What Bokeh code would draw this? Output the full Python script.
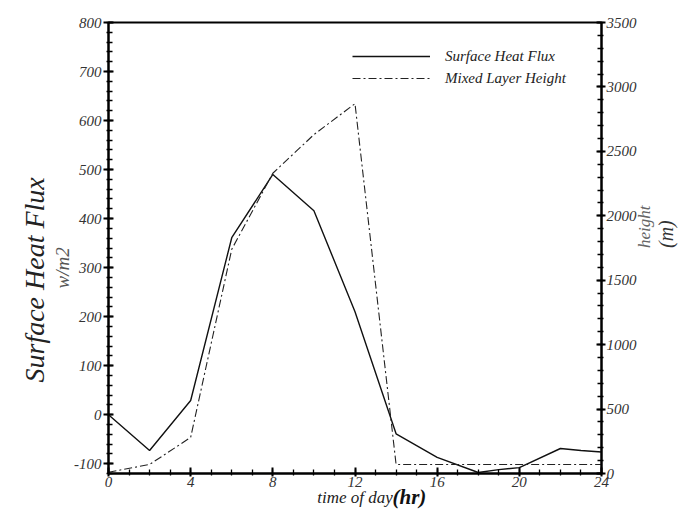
import math
from bokeh.plotting import figure
from bokeh.models import Range1d, LinearAxis, Legend, LegendItem, FixedTicker, Title
from bokeh.embed import file_html
from bokeh.resources import INLINE

# ---- data ----
flux_hours = [0, 2, 4, 6, 8, 10, 12, 14, 16, 18, 19, 20, 22, 23, 24]
flux_values = [0, -73, 29, 361, 490, 416, 210, -39, -87, -118, -112, -108, -69, -73, -76]

mlh_hours = [0, 2, 4, 6, 8, 10, 12, 14, 16, 18, 20, 22, 24]
mlh_values = [10, 70, 280, 1740, 2330, 2630, 2870, 70, 70, 70, 70, 70, 70]

x_ticks = [0, 4, 8, 12, 16, 20, 24]
flux_ticks = [-100, 0, 100, 200, 300, 400, 500, 600, 700, 800]
height_ticks = [0, 500, 1000, 1500, 2000, 2500, 3000, 3500]

FONT = "Liberation Serif"

p = figure(width=697, height=514, output_backend="svg", toolbar_location=None,
           x_range=Range1d(0, 24), y_range=Range1d(-120, 800),
           min_border_left=108, min_border_right=96, min_border_top=22,
           min_border_bottom=41)
p.extra_y_ranges = {"h": Range1d(0, 3500)}
p.grid.visible = False
p.outline_line_color = "black"
p.outline_line_width = 2

r1 = p.line(flux_hours, flux_values, line_color="#111111", line_width=1.4)
r2 = p.line(mlh_hours, mlh_values, y_range_name="h", line_color="#222222",
            line_width=1.1, line_dash="8 3 2 3")


def style_axis(ax, tin, tout, mtin, mtout, standoff):
    ax.axis_line_width = 2
    ax.axis_line_color = "black"
    ax.major_tick_line_width = 2
    ax.minor_tick_line_width = 1.3
    ax.major_tick_line_color = "black"
    ax.minor_tick_line_color = "black"
    ax.major_tick_in = tin
    ax.major_tick_out = tout
    ax.minor_tick_in = mtin
    ax.minor_tick_out = mtout
    ax.major_label_text_font = FONT
    ax.major_label_text_font_style = "italic"
    ax.major_label_text_font_size = "15px"
    ax.major_label_text_color = "#333333"
    ax.major_label_standoff = standoff
    ax.axis_label_text_font = FONT
    ax.axis_label_text_font_style = "italic"


def label_axis(text, size, color, standoff, **kw):
    ax = LinearAxis(**kw)
    ax.ticker = FixedTicker(ticks=[])
    ax.axis_line_color = None
    ax.major_tick_line_color = None
    ax.minor_tick_line_color = None
    ax.major_tick_in = 0
    ax.major_tick_out = 0
    ax.minor_tick_in = 0
    ax.minor_tick_out = 0
    ax.major_label_standoff = 0
    ax.major_label_text_font_size = "0px"
    ax.axis_label = text
    ax.axis_label_text_font = FONT
    ax.axis_label_text_font_style = "italic"
    ax.axis_label_text_font_size = size
    ax.axis_label_text_color = color
    ax.axis_label_standoff = standoff
    try:
        ax.axis_label_orientation = math.pi / 2
    except Exception:
        pass
    return ax


def side_title(text, size, color, offset, standoff, style="italic"):
    t = Title(text=text, align="left", offset=offset, vertical_align="middle",
              text_font=FONT, text_font_style=style, text_font_size=size,
              text_color=color)
    try:
        t.standoff = standoff
    except Exception:
        pass
    return t


# bottom axis
xa = p.xaxis[0]
xa.ticker = FixedTicker(ticks=x_ticks, minor_ticks=list(range(0, 25)))
style_axis(xa, 6, 3, 4, 2, 0)
xa.axis_label = "time of day"
xa.axis_label_text_font_size = "17px"
xa.axis_label_text_color = "#222222"
xa.axis_label_standoff = -2

# left axis
ya = p.yaxis[0]
ya.ticker = FixedTicker(ticks=flux_ticks, minor_ticks=list(range(-120, 801, 20)))
style_axis(ya, 5, 5, 4, 2, 2)
ya.major_label_overrides = {t: str(t) for t in flux_ticks}

p.add_layout(side_title("w/m2", "19px", "#555555", 185, -4), "left")
p.add_layout(side_title("Surface Heat Flux", "28px", "#222222", 91, 4), "left")

# right axis
ra = LinearAxis(y_range_name="h")
ra.ticker = FixedTicker(ticks=height_ticks, minor_ticks=list(range(0, 3501, 100)))
style_axis(ra, 5, 4, 4, 2, 1)
p.add_layout(ra, "right")

p.add_layout(label_axis("height", "17px", "#666666", 5, y_range_name="h"), "right")
p.add_layout(label_axis("(m)", "20px", "#333333", -1, y_range_name="h"), "right")

# bold "(hr)" next to the x-axis title
hr = Title(text="(hr)", align="left", offset=284, vertical_align="top",
           text_font=FONT, text_font_style="bold italic", text_font_size="21px",
           text_color="#111111")
try:
    hr.standoff = -49
except Exception:
    pass
p.add_layout(hr, "below")

legend = Legend(items=[LegendItem(label="Surface Heat Flux", renderers=[r1]),
                       LegendItem(label="Mixed Layer Height", renderers=[r2])],
                location=(244, 384))
legend.label_text_font = FONT
legend.label_text_font_style = "italic"
legend.label_text_font_size = "15px"
legend.label_text_color = "#222222"
legend.glyph_width = 78
legend.glyph_height = 22
legend.label_height = 22
legend.label_standoff = 15
legend.padding = 0
legend.margin = 0
legend.spacing = 0
legend.border_line_color = None
legend.background_fill_alpha = 0
p.add_layout(legend)

open("out.html", "w").write(file_html(p, INLINE))
